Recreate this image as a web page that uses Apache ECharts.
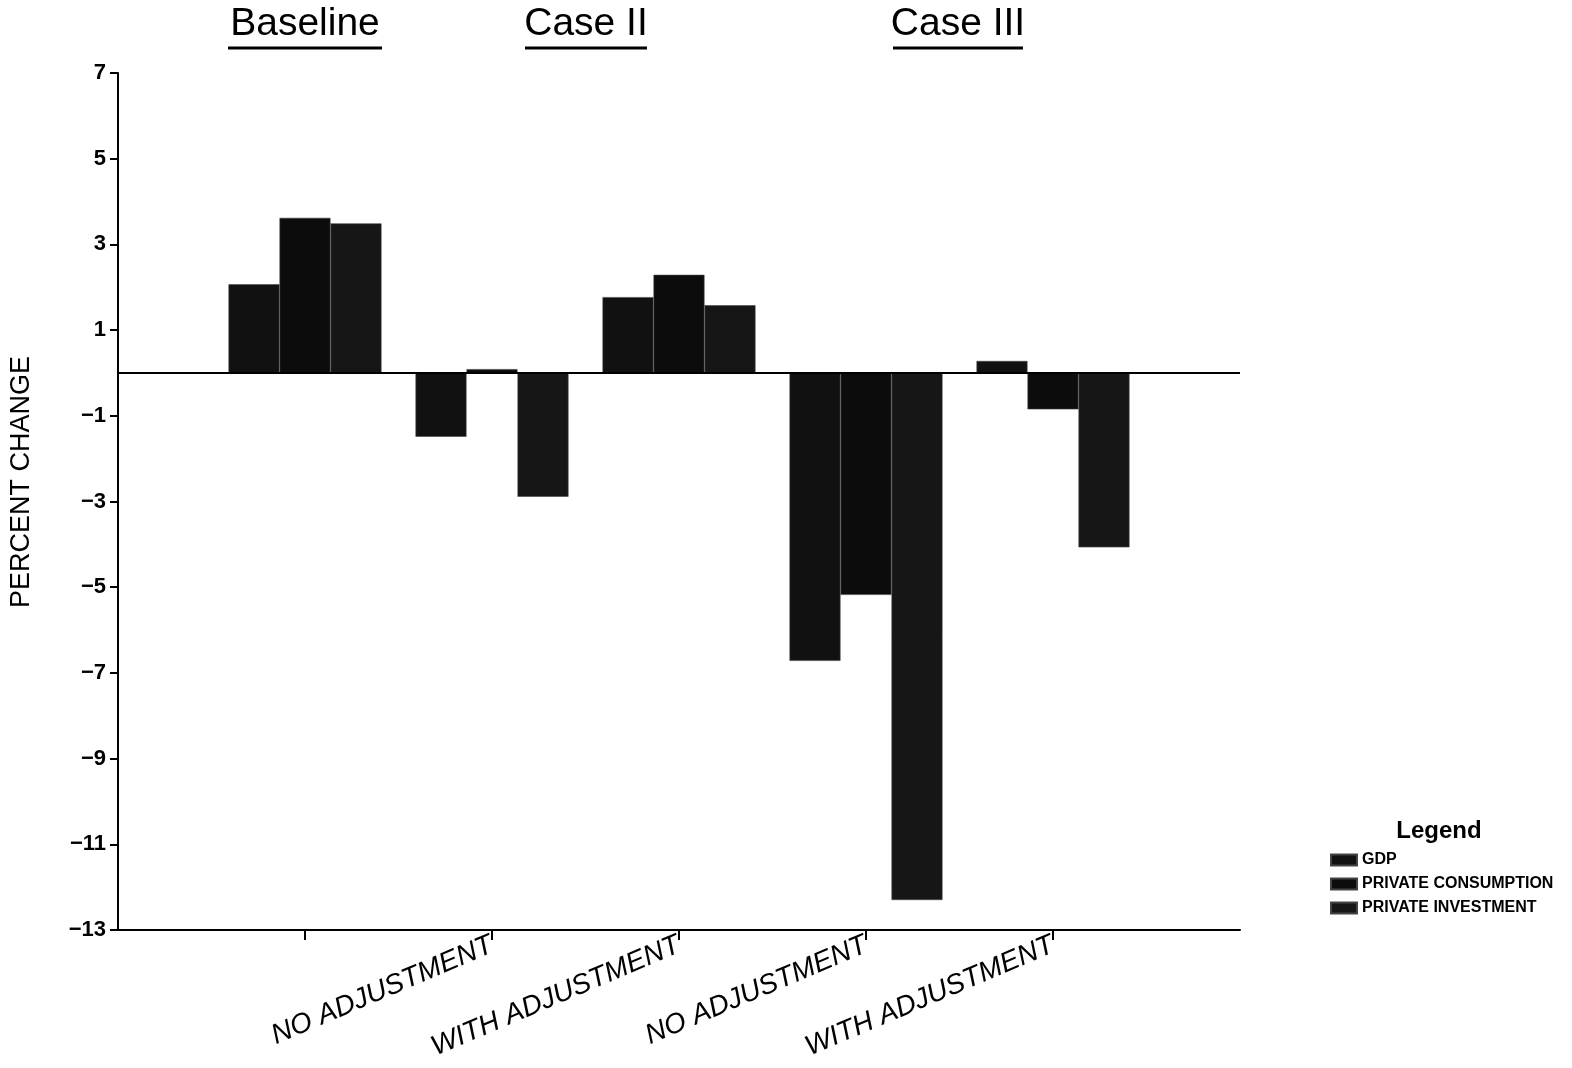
<!DOCTYPE html>
<html>
<head>
<meta charset="utf-8">
<script src="https://cdn.jsdelivr.net/npm/echarts@6/dist/echarts.min.js"></script>
<style>
  html, body { margin: 0; padding: 0; background: #fff; }
  #chart { width: 1572px; height: 1068px; }
</style>
</head>
<body>
<div id="chart"></div>
<script>
  // groups along the x axis (first and last are empty padding slots)
  let categories = ['pad0', 'Baseline', 'CaseII-No', 'CaseII-With', 'CaseIII-No', 'CaseIII-With', 'pad6']
  let tickLabels = ['', '', 'NO ADJUSTMENT', 'WITH ADJUSTMENT', 'NO ADJUSTMENT', 'WITH ADJUSTMENT', '']
  let legendNames = ['GDP', 'PRIVATE CONSUMPTION', 'PRIVATE INVESTMENT']
  let gdp = [2.07, -1.49, 1.77, -6.72, 0.28]
  let consumption = [3.62, 0.09, 2.29, -5.18, -0.85]
  let investment = [3.49, -2.89, 1.58, -12.3, -4.07]
  let colors = ['#111111', '#0c0c0c', '#161616']

  let myChart = echarts.init(document.getElementById('chart'))
  let values = [gdp, consumption, investment]
  let series = []
  legendNames.forEach((name, index) => {
    let s = {
      name: name,
      type: 'bar',
      barWidth: 51,
      barGap: '0%',
      itemStyle: {
        color: colors[index],
        borderColor: '#444',
        borderWidth: 0.6
      },
      data: [null].concat(values[index], [null])
    }
    if (index === 0) {
      s.markLine = {
        silent: true,
        symbol: 'none',
        label: {show: false},
        lineStyle: {color: '#000', width: 2, type: 'solid'},
        data: [{yAxis: 0}]
      }
    }
    series.push(s)
  })

  let titleFont = '"Liberation Sans", Arial, sans-serif'
  let titles = [
    {text: 'Baseline', x: 305},
    {text: 'Case II', x: 586},
    {text: 'Case III', x: 958}
  ]
  let graphics = []
  titles.forEach(t => {
    graphics.push({
      type: 'text',
      style: {
        text: t.text,
        x: t.x,
        y: 44,
        fill: '#000',
        font: '39px ' + titleFont,
        textAlign: 'center',
        textVerticalAlign: 'bottom'
      }
    })
  })
  let underlines = [[228, 382], [525, 647], [893, 1023]]
  underlines.forEach(u => {
    graphics.push({
      type: 'line',
      shape: {x1: u[0], y1: 48, x2: u[1], y2: 48},
      style: {stroke: '#000', lineWidth: 3}
    })
  })
  graphics.push({
    type: 'text',
    style: {
      text: 'Legend',
      x: 1439,
      y: 831,
      textAlign: 'center',
      textVerticalAlign: 'middle',
      fill: '#000',
      font: 'bold 24px ' + titleFont
    }
  })
  // y axis title, placed like the original (slightly above the plot middle)
  graphics.push({
    type: 'text',
    x: 22,
    y: 482,
    rotation: Math.PI / 2,
    style: {
      text: 'PERCENT CHANGE',
      x: 0,
      y: 0,
      textAlign: 'center',
      textVerticalAlign: 'middle',
      fill: '#000',
      font: '27px ' + titleFont
    }
  })

  let option = {
    animation: false,
    backgroundColor: '#fff',
    graphic: graphics,
    grid: {left: 118, right: 332, top: 73, bottom: 138, containLabel: false, outerBoundsMode: 'none'},
    legend: {
      data: legendNames,
      orient: 'vertical',
      left: 1325,
      top: 847,
      itemWidth: 26,
      itemHeight: 11,
      itemGap: 8,
      icon: 'rect',
      textStyle: {color: '#000', fontSize: 16, fontWeight: 'bold', fontFamily: titleFont}
    },
    xAxis: {
      type: 'category',
      data: categories,
      boundaryGap: false,
      axisLine: {onZero: false, lineStyle: {color: '#000', width: 2}},
      axisTick: {
        show: true,
        length: 10,
        interval: (i) => i > 0 && i < 6,
        lineStyle: {color: '#000', width: 2}
      },
      axisLabel: {
        interval: 0,
        rotate: 23,
        margin: 14,
        color: '#000',
        fontSize: 28,
        fontStyle: 'italic',
        fontFamily: titleFont,
        formatter: (v, i) => tickLabels[i]
      },
      splitLine: {show: false}
    },
    yAxis: {
      type: 'value',
      min: -13,
      max: 7,
      interval: 2,
      axisLine: {show: true, lineStyle: {color: '#000', width: 2}},
      axisTick: {show: true, length: 8, lineStyle: {color: '#000', width: 2}},
      axisLabel: {
        color: '#000',
        fontSize: 22,
        fontWeight: 'bold',
        fontFamily: titleFont,
        margin: 12,
        formatter: (v) => String(v).replace('-', '\u2212')
      },
      splitLine: {show: false}
    },
    series: series
  }
  myChart.setOption(option)
</script>
</body>
</html>
